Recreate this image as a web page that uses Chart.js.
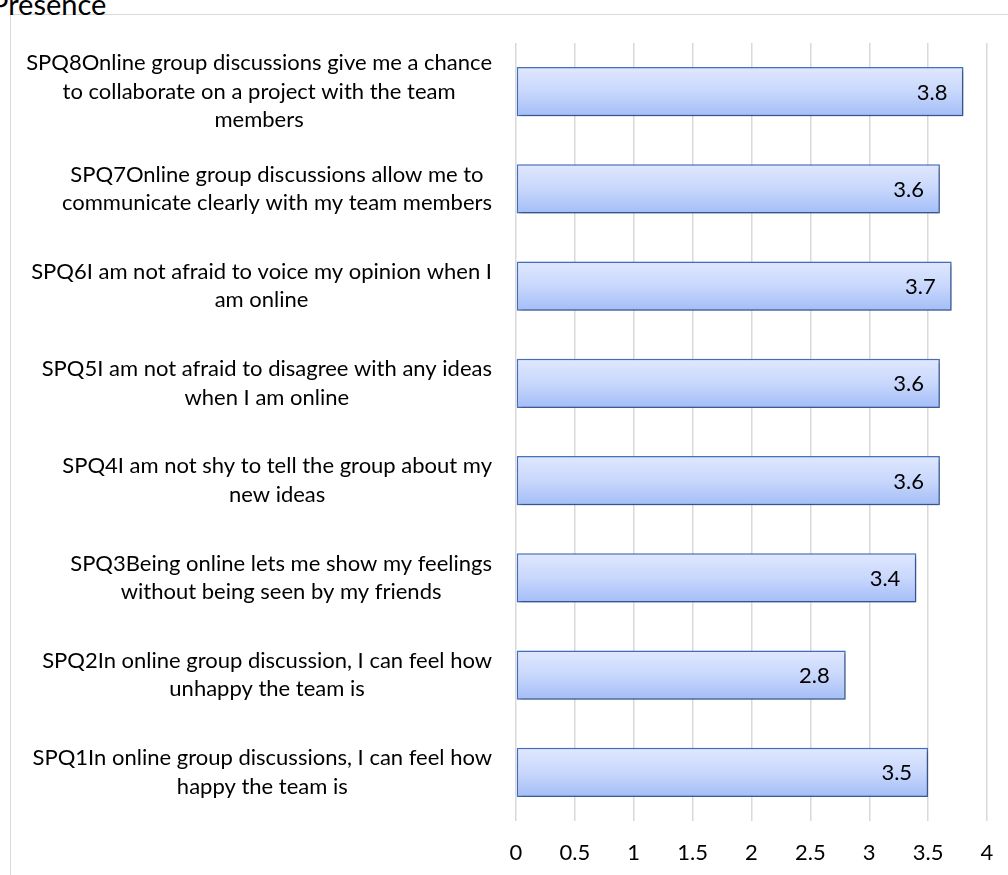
<!DOCTYPE html>
<html>
<head>
<meta charset="utf-8">
<script src="https://cdn.jsdelivr.net/npm/chart.js@4.4.1/dist/chart.umd.min.js"></script>
<style>
  body { margin: 0; background: #fff; overflow: hidden; }
  #wrap { position: relative; width: 1008px; height: 875px; overflow: hidden; }
  #frame { position: absolute; left: 10px; top: 14px; width: 1100px; height: 1000px; border: 1px solid #d9d9d9; }
  #title { position: absolute; left: -9px; top: -11px; font: 29px Lato, sans-serif; line-height: 29px; color: #000; white-space: nowrap; }
  canvas { position: absolute; left: 0; top: 0; }
</style>
</head>
<body>
<div id="wrap">
  <div id="frame"></div>
  <div id="title">Presence</div>
  <canvas id="chart" width="1008" height="875"></canvas>
</div>
<script>
// categories, top to bottom, wrapped as in the picture
const categories = [
  ["SPQ8Online group discussions give me a chance", "to collaborate on a project with the team", "members"],
  ["SPQ7Online group discussions allow me to", "communicate clearly with my team members"],
  ["SPQ6I am not afraid to voice my opinion when I", "am online"],
  ["SPQ5I am not afraid to disagree with any ideas", "when I am online"],
  ["SPQ4I am not shy to tell the group about my", "new ideas"],
  ["SPQ3Being online lets me show my feelings", "without being seen by my friends"],
  ["SPQ2In online group discussion, I can feel how", "unhappy the team is"],
  ["SPQ1In online group discussions, I can feel how", "happy the team is"]
];
const scores = [3.8, 3.6, 3.7, 3.6, 3.6, 3.4, 2.8, 3.5];
const tickValues = [0, 0.5, 1, 1.5, 2, 2.5, 3, 3.5, 4];

const FONT = "Lato, sans-serif";
const FONT_SIZE = 22;
const LINE_H = 28.5;

// bar gradient, light at top and darker blue at bottom
function barFill(c) {
  const chart = c.chart;
  const y = chart.scales.y;
  if (!chart.chartArea || c.dataIndex === undefined) return '#c3d3fb';
  const mid = y.getPixelForValue(c.dataIndex);
  const half = 25;
  const g = chart.ctx.createLinearGradient(0, mid - half, 0, mid + half);
  g.addColorStop(0, '#e0e8fe');
  g.addColorStop(0.5, '#c8d7fc');
  g.addColorStop(1, '#a3bdf7');
  return g;
}

// category labels: each block right aligned, its lines centred on the block
const catLabels = {
  id: 'catLabels',
  afterDraw(chart) {
    const ctx = chart.ctx;
    const y = chart.scales.y;
    const right = chart.chartArea.left - 24;
    ctx.save();
    ctx.font = FONT_SIZE + 'px ' + FONT;
    ctx.fillStyle = '#000';
    ctx.textAlign = 'center';
    ctx.textBaseline = 'middle';
    categories.forEach((lines, i) => {
      const w = Math.max(...lines.map(l => ctx.measureText(l).width));
      const cx = right - w / 2;
      const mid = y.getPixelForValue(i);
      const top = mid - (lines.length - 1) * LINE_H / 2;
      lines.forEach((l, k) => ctx.fillText(l, cx, top + k * LINE_H));
    });
    ctx.restore();
  }
};

// value labels inside the bar end
const valueLabels = {
  id: 'valueLabels',
  afterDatasetsDraw(chart) {
    const ctx = chart.ctx;
    const meta = chart.getDatasetMeta(0);
    ctx.save();
    ctx.font = FONT_SIZE + 'px ' + FONT;
    ctx.fillStyle = '#000';
    ctx.textAlign = 'right';
    ctx.textBaseline = 'middle';
    meta.data.forEach((bar, i) => {
      ctx.fillText(scores[i].toFixed(1), bar.x - 16, bar.y + 1);
    });
    ctx.restore();
  }
};

// soft shadow under the bars
const barShadow = {
  id: 'barShadow',
  beforeDatasetDraw(chart) {
    const ctx = chart.ctx;
    ctx.save();
    ctx.shadowColor = 'rgba(0,0,0,0.35)';
    ctx.shadowBlur = 4;
    ctx.shadowOffsetX = 2;
    ctx.shadowOffsetY = 2;
  },
  afterDatasetDraw(chart) {
    chart.ctx.restore();
  }
};

new Chart(document.getElementById('chart'), {
  type: 'bar',
  data: {
    labels: categories,
    datasets: [{
      data: scores,
      backgroundColor: barFill,
      borderColor: '#4472c4',
      borderWidth: 1.5,
      borderSkipped: false,
      categoryPercentage: 1,
      barPercentage: 0.505
    }]
  },
  options: {
    indexAxis: 'y',
    responsive: false,
    animation: false,
    layout: { padding: { left: 516, right: 21, top: 43, bottom: 0 } },
    plugins: {
      legend: { display: false },
      tooltip: { enabled: false }
    },
    scales: {
      y: { display: false },
      x: {
        min: 0,
        max: 4,
        afterFit(scale) { scale.height = 54; },
        afterBuildTicks(scale) { scale.ticks = tickValues.map(v => ({ value: v })); },
        grid: { color: '#d9d9d9', lineWidth: 1.5, drawTicks: false },
        border: { display: false },
        ticks: {
          color: '#000',
          padding: 0,
          font: { family: FONT, size: FONT_SIZE, lineHeight: 64 / 22 },
          callback: v => String(v)
        }
      }
    }
  },
  plugins: [barShadow, valueLabels, catLabels]
});
</script>
</body>
</html>
